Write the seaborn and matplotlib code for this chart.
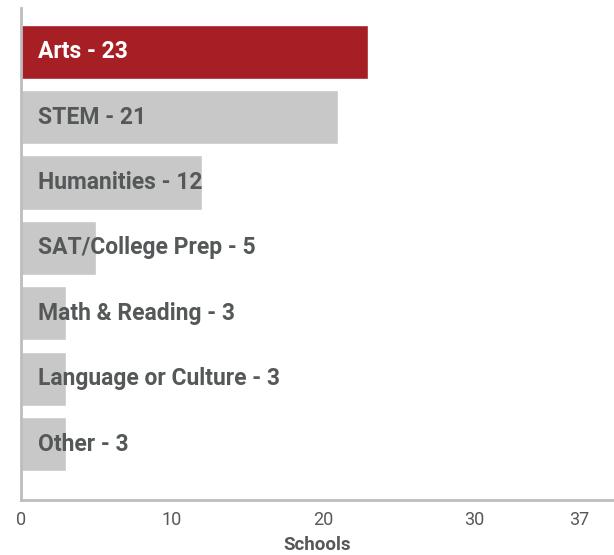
import matplotlib
matplotlib.use("Agg")
import matplotlib.pyplot as plt
import matplotlib.transforms as mtransforms
import seaborn as sns

categories = ["Arts", "STEM", "Humanities", "SAT/College Prep",
              "Math & Reading", "Language or Culture", "Other"]
schools = [23, 21, 12, 5, 3, 3, 3]
xticks = [0, 10, 20, 30, 37]

RED = "#a61f24"
GREY = "#c9c8c9"
TEXT_DARK = "#555859"
AXIS = "#bdbdbd"

sns.set_style("white")
plt.rcParams["font.family"] = ["Roboto", "DejaVu Sans"]

fig = plt.figure(figsize=(6.14, 5.55), dpi=100)
ax = fig.add_axes([0.034, 0.099, 0.964, 0.887])

colors = [RED] + [GREY] * (len(categories) - 1)
sns.barplot(x=schools, y=categories, hue=categories, palette=colors,
            legend=False, width=0.83, orient="h", saturation=1, ax=ax)

# labels inside the bars
offset = mtransforms.offset_copy(ax.transData, fig=fig, x=17, y=0, units="dots")
for i, (cat, val) in enumerate(zip(categories, schools)):
    ax.text(0, i, f"{cat} - {val}", transform=offset, ha="left", va="center",
            fontsize=16.5, fontweight="bold",
            color="white" if i == 0 else TEXT_DARK)

ax.set_xlim(0, 39.2)
ax.set_ylim(6.857, -0.673)
ax.set_xticks(xticks)
ax.set_xticklabels([str(t) for t in xticks])
ax.set_yticks([])
ax.set_ylabel("")
ax.set_xlabel("Schools", fontsize=13.5, fontweight="bold", color=TEXT_DARK, labelpad=5)
ax.tick_params(axis="x", length=0, pad=8, labelsize=13, labelcolor=TEXT_DARK)

for side in ["top", "right"]:
    ax.spines[side].set_visible(False)
for side in ["left", "bottom"]:
    ax.spines[side].set_color(AXIS)
    ax.spines[side].set_linewidth(2)

fig.savefig("out.png", dpi=100)
